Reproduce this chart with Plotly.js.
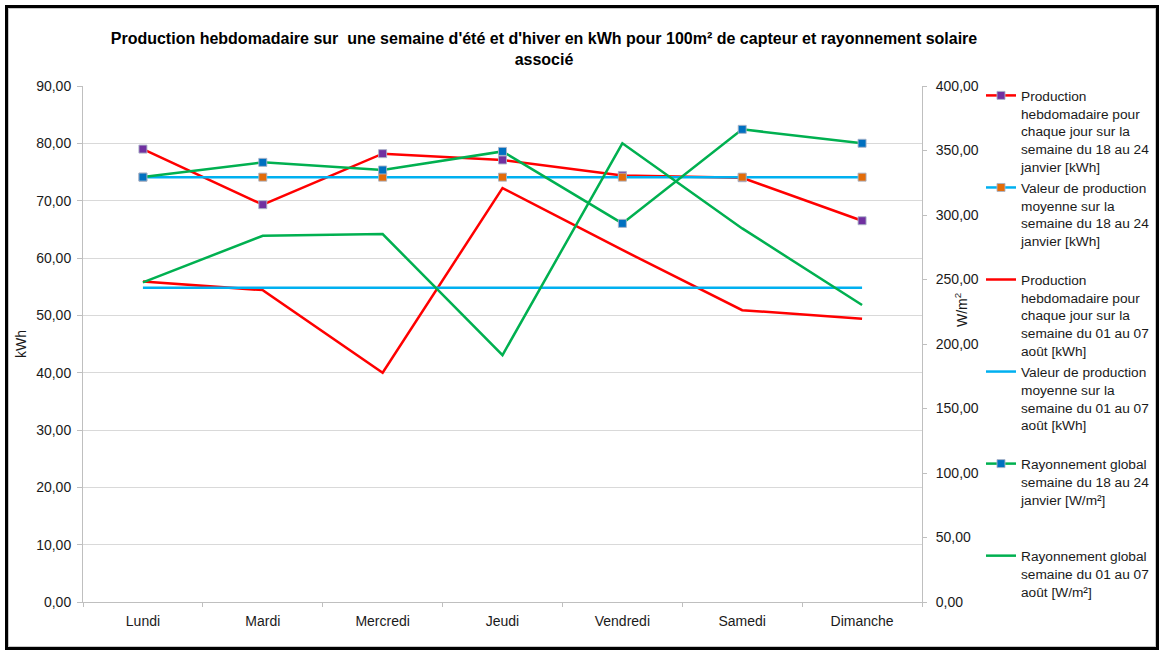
<!DOCTYPE html>
<html>
<head>
<meta charset="utf-8">
<script src="https://cdn.plot.ly/plotly-3.0.1.min.js"></script>
<style>
  html, body { margin: 0; padding: 0; background: #fff; }
  #chart { position: absolute; left: 0; top: 0; width: 1159px; height: 651px; }
  #frame { position: absolute; left: 5px; top: 5px; width: 1148px; height: 639px;
           border: 3px solid #000; box-shadow: inset 0 0 0 1px #c8c8c8; pointer-events: none; }
</style>
</head>
<body>
<div id="chart"></div>
<div id="frame"></div>
<script>
// ---- data ----
const jours = ['Lundi', 'Mardi', 'Mercredi', 'Jeudi', 'Vendredi', 'Samedi', 'Dimanche'];
const prodJanvier = [79.0, 69.3, 78.2, 77.1, 74.4, 74.0, 66.5];
const moyJanvier = [74.1, 74.1, 74.1, 74.1, 74.1, 74.1, 74.1];
const prodAout = [55.9, 54.4, 40.0, 72.2, 61.4, 50.9, 49.4];
const moyAout = [54.8, 54.8, 54.8, 54.8, 54.8, 54.8, 54.8];
const rayJanvier = [329.4, 340.8, 334.9, 349.3, 293.5, 366.4, 355.6];
const rayAout = [247.8, 283.9, 285.2, 191.4, 355.6, 289.6, 230.2];

const noms = [
  'Production<br>hebdomadaire pour<br>chaque jour sur la<br>semaine du 18 au 24<br>janvier [kWh]',
  'Valeur de production<br>moyenne sur la<br>semaine du 18 au 24<br>janvier [kWh]<br>\u00a0',
  'Production<br>hebdomadaire pour<br>chaque jour sur la<br>semaine du 01 au 07<br>août [kWh]',
  'Valeur de production<br>moyenne sur la<br>semaine du 01 au 07<br>août [kWh]<br>\u00a0',
  'Rayonnement global<br>semaine du 18 au 24<br>janvier [W/m²]<br>\u00a0<br>\u00a0',
  'Rayonnement global<br>semaine du 01 au 07<br>août [W/m²]'
];

const FONT = 'Liberation Sans, Arial, sans-serif';
const mk = (c) => ({ symbol: 'square', size: 8, color: c, line: { color: 'rgba(170,180,200,0.9)', width: 1 } });

const traces = [
  { x: jours, y: prodJanvier, name: noms[0], mode: 'lines+markers', yaxis: 'y',
    line: { color: '#FF0000', width: 2.5 }, marker: mk('#7030A0') },
  { x: jours, y: moyJanvier, name: noms[1], mode: 'lines+markers', yaxis: 'y',
    line: { color: '#00B0F0', width: 2.5 }, marker: mk('#E36C09') },
  { x: jours, y: prodAout, name: noms[2], mode: 'lines', yaxis: 'y',
    line: { color: '#FF0000', width: 2.5 } },
  { x: jours, y: moyAout, name: noms[3], mode: 'lines', yaxis: 'y',
    line: { color: '#00B0F0', width: 2.5 } },
  { x: jours, y: rayJanvier, name: noms[4], mode: 'lines+markers', yaxis: 'y2',
    line: { color: '#00B050', width: 2.5 }, marker: mk('#0070C0') },
  { x: jours, y: rayAout, name: noms[5], mode: 'lines', yaxis: 'y2',
    line: { color: '#00B050', width: 2.5 } }
];

const layout = {
  width: 1159, height: 651,
  margin: { l: 83, r: 237, t: 86, b: 49 },
  paper_bgcolor: '#fff', plot_bgcolor: '#fff',
  separators: ', ',
  font: { family: FONT, size: 14, color: '#1a1a1a' },
  title: {
    text: "<b>Production hebdomadaire sur  une semaine d'été et d'hiver en kWh pour 100m² de capteur et rayonnement solaire<br>associé</b>",
    font: { family: FONT, size: 16, color: '#000' },
    x: 544 / 1159, xanchor: 'center', xref: 'container',
    y: 1 - 44 / 651, yanchor: 'top', yref: 'container'
  },
  xaxis: {
    type: 'category', range: [-0.5, 6.5],
    showgrid: false, showline: true, linecolor: '#bfbfbf', linewidth: 1,
    ticks: 'outside', tickson: 'boundaries', ticklen: 4, tickcolor: '#bfbfbf',
    tickfont: { size: 14 }, ticklabelstandoff: 6
  },
  yaxis: {
    range: [0, 90], dtick: 10, tickformat: '.2f',
    showgrid: true, gridcolor: '#d9d9d9', gridwidth: 1, zeroline: false,
    showline: true, linecolor: '#bfbfbf', linewidth: 1,
    ticks: 'outside', ticklen: 5, tickcolor: '#bfbfbf',
    tickfont: { size: 14 }, ticklabelstandoff: 3,
    title: { text: 'kWh', font: { size: 14 }, standoff: 6 }
  },
  yaxis2: {
    range: [0, 400], dtick: 50, tickformat: '.2f',
    overlaying: 'y', side: 'right',
    showgrid: false, zeroline: false,
    showline: true, linecolor: '#bfbfbf', linewidth: 1,
    ticks: 'outside', ticklen: 4, tickcolor: '#bfbfbf',
    tickfont: { size: 14 }, ticklabelstandoff: 6
  },
  legend: {
    xref: 'container', yref: 'container',
    x: 981 / 1159, xanchor: 'left',
    y: 1 - 80 / 651, yanchor: 'top',
    maxheight: 640,
    valign: 'top', bgcolor: 'rgba(0,0,0,0)', borderwidth: 0,
    font: { family: FONT, size: 13.7, color: '#1a1a1a' },
    tracegroupgap: 0
  },
  annotations: [{
    text: 'W/m<sup>2</sup>', textangle: -90, showarrow: false,
    xref: 'paper', yref: 'paper',
    x: (961 - 83) / 839, y: (602 - 310) / 516,
    xanchor: 'center', yanchor: 'middle',
    font: { family: FONT, size: 14, color: '#1a1a1a' }
  }]
};

Plotly.newPlot('chart', traces, layout, { displayModeBar: false, staticPlot: true });
</script>
</body>
</html>
